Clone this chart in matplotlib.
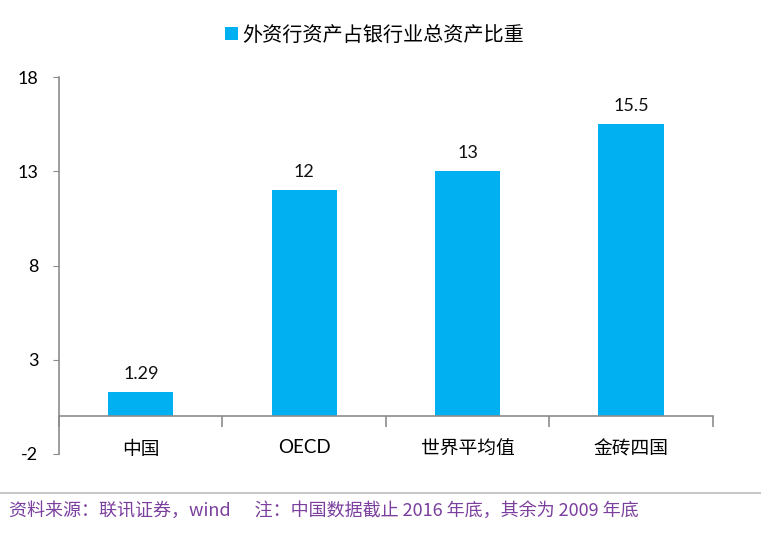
import matplotlib.pyplot as plt
import numpy as np

categories = ['中国', 'OECD', '世界平均值', '金砖四国']
values = [1.29, 12, 13, 15.5]
value_labels = ['1.29', '12', '13', '15.5']
yticks = [-2, 3, 8, 13, 18]
legend_label = '外资行资产占银行业总资产比重'
source_text = '资料来源：联讯证券，wind      注：中国数据截止 2016 年底，其余为 2009 年底'

plt.rcParams['font.family'] = ['Noto Sans CJK SC', 'DejaVu Sans']
bar_color = '#00B0F0'
axis_color = '#8C8C8C'


def main():
    fig = plt.figure(figsize=(7.84, 5.39), dpi=100)
    ax = fig.add_axes([0.0753, 0.1577, 0.834, 0.6993])

    x = np.arange(len(categories))
    bars = ax.bar(x, values, width=0.4, color=bar_color, label=legend_label, zorder=2)

    for xi, v, lab in zip(x, values, value_labels):
        ax.text(xi, v + 0.55, lab, ha='center', va='bottom', fontsize=13,
                family=['Lato', 'DejaVu Sans'], color='#111111')

    ax.set_xlim(-0.5, len(categories) - 0.5)
    ax.set_ylim(-2, 18)
    ax.set_yticks(yticks)
    ax.set_yticklabels([str(t) for t in yticks], family=['Lato', 'DejaVu Sans'], fontsize=13)

    ax.spines['top'].set_visible(False)
    ax.spines['right'].set_visible(False)
    ax.spines['left'].set_color(axis_color)
    ax.spines['bottom'].set_color(axis_color)
    ax.spines['bottom'].set_position(('data', 0))
    ax.spines['left'].set_linewidth(1.2)
    ax.spines['bottom'].set_linewidth(1.2)

    ax.tick_params(axis='y', direction='out', length=4, color=axis_color, pad=11)

    # major ticks hold the labels, minor ticks mark the category boundaries
    ax.set_xticks(x)
    ax.set_xticklabels(categories, fontsize=13.5)
    ax.set_xticks(np.arange(-0.5, len(categories)), minor=True)
    ax.tick_params(axis='x', which='major', length=0, pad=16)
    ax.tick_params(axis='x', which='minor', length=8, color=axis_color, width=1.2)
    for lbl in ax.get_xticklabels():
        if lbl.get_text() == 'OECD':
            lbl.set_family(['Lato', 'DejaVu Sans'])

    fig.legend(handles=[bars], labels=[legend_label], loc='center',
               bbox_to_anchor=(0.478, 0.935), frameon=False, fontsize=14.5,
               handlelength=0.65, handleheight=0.65, handletextpad=0.2)

    line = plt.Line2D([0.0, 0.97], [0.085, 0.085], transform=fig.transFigure,
                      color='#C8C8C8', linewidth=1.5)
    fig.add_artist(line)
    fig.text(0.012, 0.053, source_text, fontsize=13, color='#7B3F9E',
             style='italic', va='center', ha='left')

    fig.savefig('out.png', dpi=100, facecolor='white')


if __name__ == '__main__':
    main()
